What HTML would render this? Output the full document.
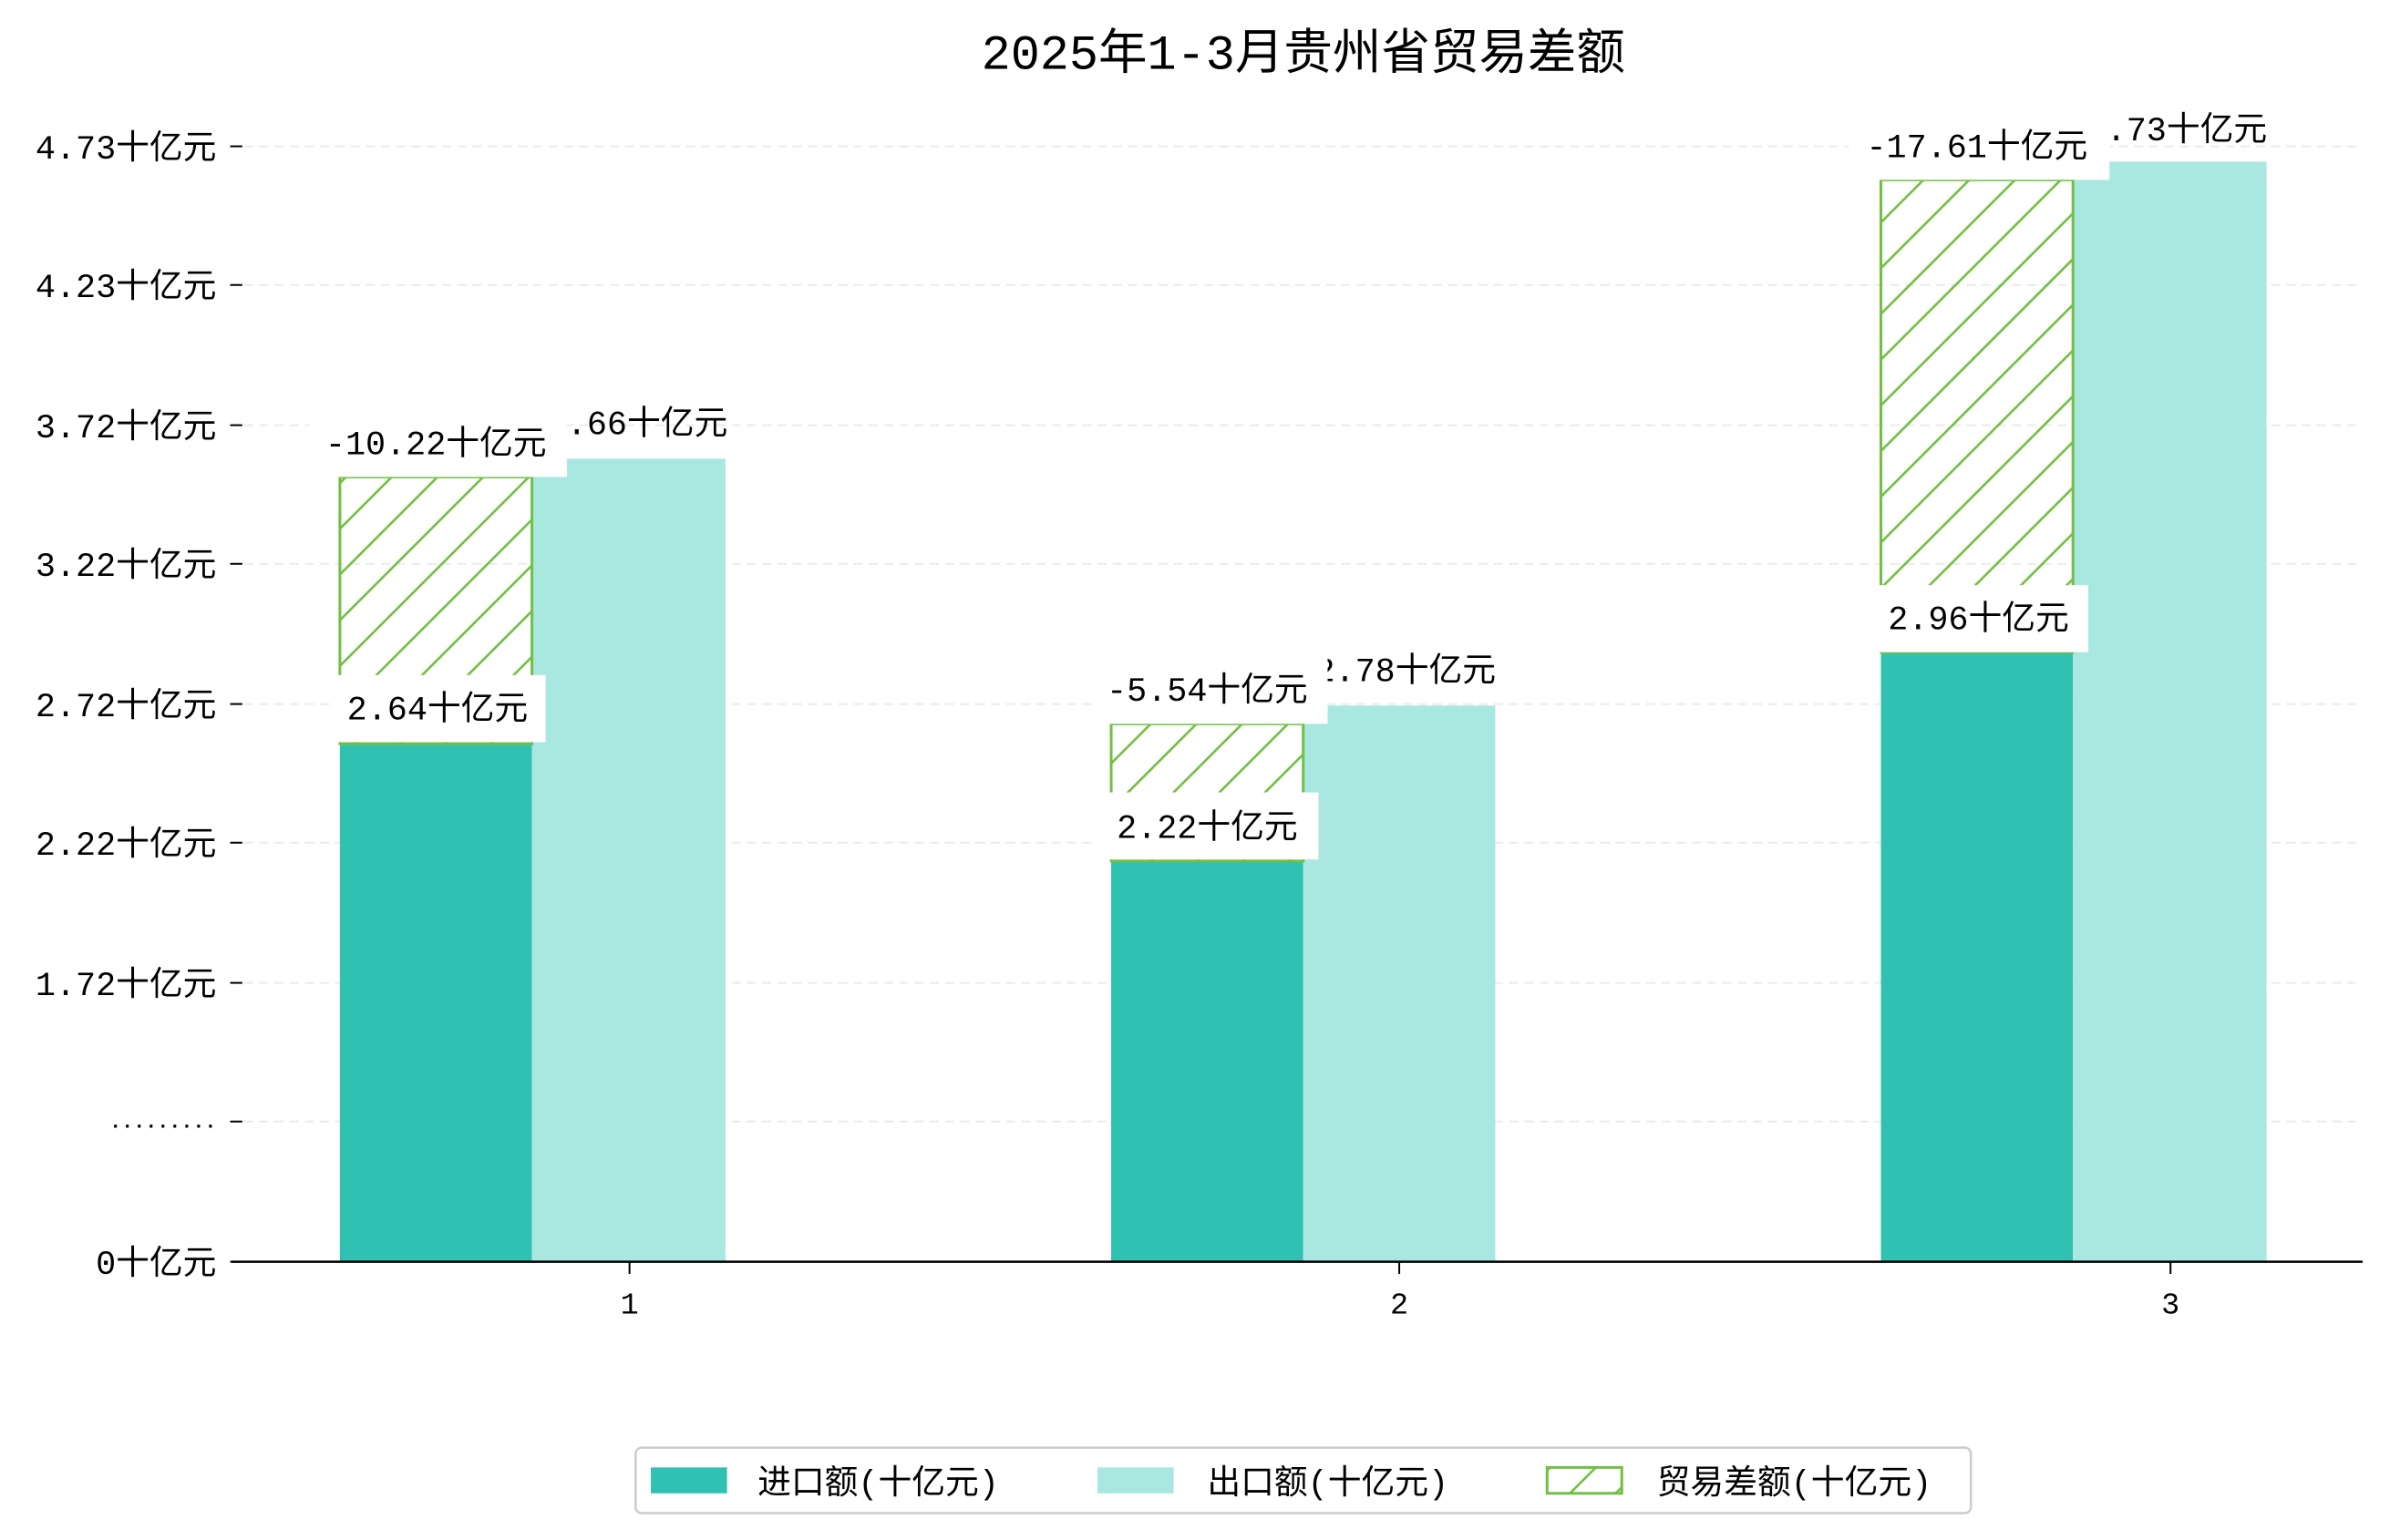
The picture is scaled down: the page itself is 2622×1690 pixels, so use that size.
<!DOCTYPE html>
<html><head><meta charset="utf-8"><style>
html,body{margin:0;padding:0;background:#fff;}
svg{display:block;}
text{font-family:"Liberation Mono","Noto Sans CJK SC",monospace;fill:#000;}
</style></head><body>
<svg width="2622" height="1690" viewBox="0 0 1568 1010.6" xmlns="http://www.w3.org/2000/svg">
<defs>
<pattern id="h" patternUnits="userSpaceOnUse" width="30" height="30">
<path d="M-5,5 L5,-5 M0,30 L30,0 M25,35 L35,25" stroke="#72bf44" stroke-width="1.6"/>
</pattern>
</defs>
<rect width="1568" height="1011" fill="#fff"/>
<text x="855" y="45" font-size="32" text-anchor="middle">2025年1-3月贵州省贸易差额</text>
<g stroke="#ebebeb" stroke-width="1.2" stroke-dasharray="6,4">
<line x1="160" y1="96" x2="1550" y2="96"/><line x1="160" y1="187" x2="1550" y2="187"/>
<line x1="160" y1="279" x2="1550" y2="279"/><line x1="160" y1="370" x2="1550" y2="370"/>
<line x1="160" y1="462" x2="1550" y2="462"/><line x1="160" y1="553" x2="1550" y2="553"/>
<line x1="160" y1="645" x2="1550" y2="645"/><line x1="160" y1="736" x2="1550" y2="736"/>
</g>
<g stroke="#000" stroke-width="1.2">
<line x1="151" y1="96" x2="159" y2="96"/><line x1="151" y1="187" x2="159" y2="187"/>
<line x1="151" y1="279" x2="159" y2="279"/><line x1="151" y1="370" x2="159" y2="370"/>
<line x1="151" y1="462" x2="159" y2="462"/><line x1="151" y1="553" x2="159" y2="553"/>
<line x1="151" y1="645" x2="159" y2="645"/><line x1="151" y1="736" x2="159" y2="736"/>
<line x1="151" y1="828" x2="159" y2="828"/>
<line x1="413" y1="828" x2="413" y2="836"/><line x1="918" y1="828" x2="918" y2="836"/><line x1="1424" y1="828" x2="1424" y2="836"/>
</g>
<g font-size="22" text-anchor="end">
<text x="142" y="104">4.73十亿元</text><text x="142" y="195">4.23十亿元</text>
<text x="142" y="287">3.72十亿元</text><text x="142" y="378">3.22十亿元</text>
<text x="142" y="470">2.72十亿元</text><text x="142" y="561">2.22十亿元</text>
<text x="142" y="653">1.72十亿元</text><text x="142" y="740" font-size="13" font-weight="bold">.........</text>
<text x="142" y="836">0十亿元</text>
</g>
<g font-size="20" text-anchor="middle">
<text x="413" y="862">1</text><text x="918" y="862">2</text><text x="1424" y="862">3</text>
</g>
<rect x="223" y="488" width="126" height="340" fill="#31c1b3"/>
<rect x="349" y="301" width="127" height="527" fill="#a9e8e1"/>
<rect x="729" y="565" width="126" height="263" fill="#31c1b3"/>
<rect x="855" y="463" width="126" height="365" fill="#a9e8e1"/>
<rect x="1234" y="428" width="126" height="400" fill="#31c1b3"/>
<rect x="1360" y="106" width="127" height="722" fill="#a9e8e1"/>
<g stroke="#72bf44" stroke-width="1.8">
<rect x="223" y="313" width="126" height="175" fill="url(#h)"/>
<rect x="729" y="475" width="126" height="90" fill="url(#h)"/>
<rect x="1234" y="118" width="126" height="310" fill="url(#h)"/>
</g>
<g font-size="22" text-anchor="middle">
<text x="418" y="285">3.66十亿元</text>
<text x="922" y="447">2.78十亿元</text>
<text x="1428" y="92">4.73十亿元</text>
</g>
<g fill="#fff">
<rect x="203" y="270" width="169" height="43"/>
<rect x="218" y="443" width="140" height="44"/>
<rect x="718" y="432" width="153" height="43"/>
<rect x="720" y="520" width="145" height="44"/>
<rect x="1213" y="74" width="171" height="44"/>
<rect x="1228" y="384" width="142" height="44"/>
</g>
<g font-size="22" text-anchor="middle">
<text x="286" y="298">-10.22十亿元</text>
<text x="287" y="472">2.64十亿元</text>
<text x="792" y="460">-5.54十亿元</text>
<text x="792" y="550">2.22十亿元</text>
<text x="1297" y="103">-17.61十亿元</text>
<text x="1298" y="413">2.96十亿元</text>
</g>
<line x1="152" y1="828" x2="1550" y2="828" stroke="#000" stroke-width="1.5"/>
<rect x="417" y="950" width="876" height="43" rx="4" fill="#fff" stroke="#cccccc" stroke-width="1.5"/>
<rect x="427" y="963" width="50" height="17" fill="#31c1b3"/>
<text x="497" y="980" font-size="22">进口额(十亿元)</text>
<rect x="720" y="963" width="50" height="17" fill="#a9e8e1"/>
<text x="792" y="980" font-size="22">出口额(十亿元)</text>
<rect x="1015" y="963" width="49" height="17" fill="url(#h)" stroke="#72bf44" stroke-width="1.8"/>
<text x="1087" y="980" font-size="22">贸易差额(十亿元)</text>
</svg>
</body></html>
